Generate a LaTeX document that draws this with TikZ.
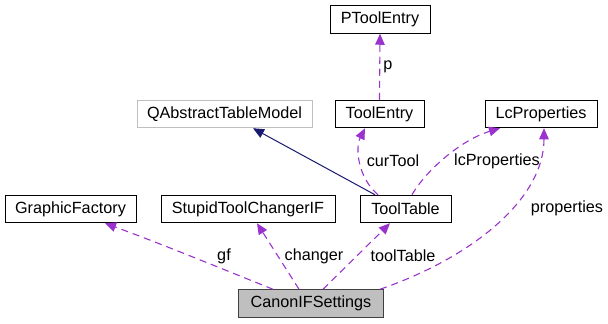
\documentclass[tikz,border=0pt]{standalone}
\usepackage{fontspec}
\setmainfont{Liberation Sans}
\usetikzlibrary{arrows.meta}

\definecolor{usecol}{HTML}{9A32CD}
\definecolor{inhcol}{HTML}{191970}
\definecolor{extborder}{HTML}{BFBFBF}
\definecolor{rootfill}{HTML}{BFBFBF}
\definecolor{rootborder}{HTML}{404040}

\tikzset{
  cls/.style={draw=black, line width=1pt, fill=white, minimum height=27.5pt,
    inner sep=0pt, font=\fontsize{16.2}{19}\selectfont},
  extcls/.style={cls, draw=extborder},
  rootcls/.style={cls, draw=rootborder, fill=rootfill},
  uses/.style={draw=usecol, line width=1.1pt, dash pattern=on 7pt off 5pt,
    -{Triangle[length=11pt,width=9.5pt,fill=usecol]}},
  inherits/.style={draw=inhcol, line width=1pt,
    -{Triangle[length=11pt,width=9.5pt,fill=inhcol]}},
  elabel/.style={font=\fontsize{16.2}{19}\selectfont, inner sep=0pt}
}

\begin{document}
\begin{tikzpicture}[x=1pt, y=-1pt]
  \useasboundingbox (0,0) rectangle (608,324);

  % classes
  \node[cls, minimum width=100pt]    (ptool)   at (380,19.5)  {PToolEntry};
  \node[extcls, minimum width=175pt] (qatm)    at (224.5,114) {QAbstractTableModel};
  \node[cls, minimum width=89pt]     (tentry)  at (379.5,114) {ToolEntry};
  \node[cls, minimum width=112pt]    (lcprop)  at (541,114)   {LcProperties};
  \node[cls, minimum width=131pt]    (gfact)   at (70.5,209)  {GraphicFactory};
  \node[cls, minimum width=174pt]    (changer) at (248,209)   {StupidToolChangerIF};
  \node[cls, minimum width=91pt]     (ttable)  at (405.5,209) {ToolTable};
  \node[rootcls, minimum width=145pt] (canon)  at (311,303.5) {CanonIFSettings};

  % ToolEntry members
  \draw[uses] (tentry.north) -- (ptool.south);
  \node[elabel] (lp) at (388,67) {p};

  % ToolTable relations
  \draw[inherits] ([xshift=-30.5pt]ttable.north) -- ([xshift=28.5pt]qatm.south);
  \draw[uses] ([xshift=-27.5pt]ttable.north)
    .. controls +(-20,-17) and +(-10,20) .. ([xshift=-14.5pt]tentry.south);
  \node[elabel] (lcur) at (393,161) {curTool};
  \draw[uses] ([xshift=6.5pt]ttable.north)
    .. controls +(13,-23) and +(-40,12) .. ([xshift=-41pt]lcprop.south);
  \node[elabel] (llc) at (497,161) {lcProperties};

  % CanonIFSettings members
  \draw[uses] ([xshift=69pt]canon.north)
    .. controls +(90,-31) and +(0,72) .. ([xshift=3pt]lcprop.south);
  \node[elabel] (lprop) at (567,208) {properties};
  \draw[uses] ([xshift=12pt]canon.north) -- ([xshift=-15.5pt]ttable.south);
  \node[elabel] (ltt) at (403,256) {toolTable};
  \draw[uses] ([xshift=-12pt]canon.north) -- ([xshift=9pt]changer.south);
  \node[elabel] (lch) at (314,256) {changer};
  \draw[uses] ([xshift=-38pt]canon.north)
    .. controls +(-50,-20) and +(60,22) .. ([xshift=34.5pt]gfact.south);
  \node[elabel] (lgf) at (224,256) {gf};
\end{tikzpicture}
\end{document}
